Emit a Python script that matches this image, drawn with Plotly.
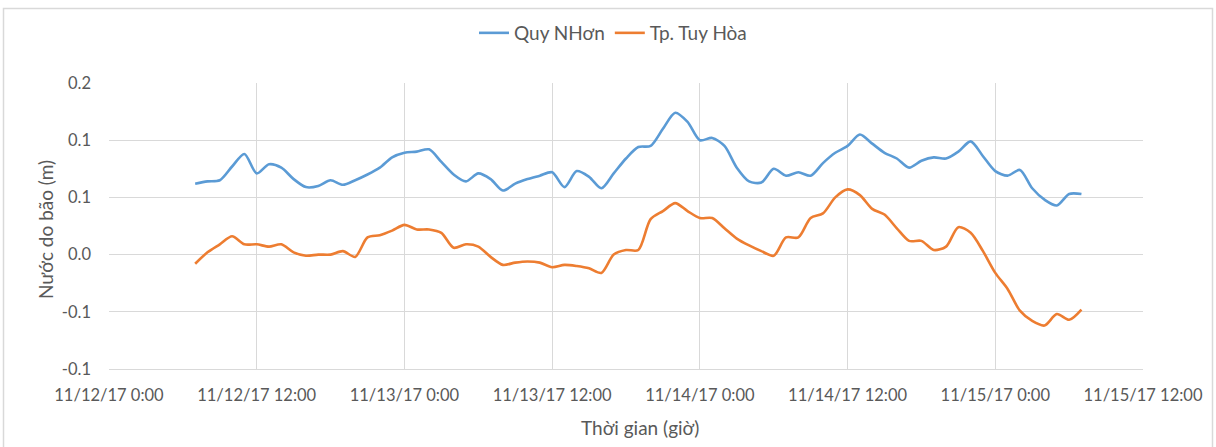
import pandas as pd
import plotly.graph_objects as go

# Hourly readings, 11/12/17 07:00 -> 11/15/17 07:00
start_time = "2017-11-12 07:00"
n_hours = 73

quy_nhon = [
    0.062, 0.064, 0.065, 0.077, 0.088, 0.071, 0.079, 0.076, 0.066, 0.059, 0.060, 0.065,
    0.061, 0.065, 0.070, 0.076, 0.085, 0.089, 0.090, 0.092, 0.081, 0.070, 0.064, 0.071,
    0.066, 0.056, 0.062, 0.066, 0.069, 0.072, 0.059, 0.073, 0.068, 0.058, 0.071, 0.084,
    0.094, 0.095, 0.110, 0.124, 0.116, 0.100, 0.102, 0.095, 0.076, 0.064, 0.063, 0.075,
    0.069, 0.072, 0.069, 0.080, 0.089, 0.095, 0.105, 0.097, 0.089, 0.084, 0.076, 0.082,
    0.085, 0.084, 0.090, 0.099, 0.086, 0.073, 0.069, 0.074, 0.058, 0.048, 0.043, 0.053,
    0.053,
]

tuy_hoa = [
    -0.008, 0.002, 0.009, 0.016, 0.009, 0.009, 0.007, 0.009, 0.002, -0.001, 0.000, 0.000,
    0.003, -0.002, 0.015, 0.017, 0.021, 0.026, 0.022, 0.022, 0.019, 0.006, 0.009, 0.007,
    -0.002, -0.009, -0.007, -0.006, -0.007, -0.011, -0.009, -0.010, -0.012, -0.016, 0.000, 0.004,
    0.004, 0.031, 0.038, 0.045, 0.038, 0.032, 0.032, 0.023, 0.014, 0.008, 0.003, -0.001,
    0.015, 0.015, 0.032, 0.036, 0.050, 0.057, 0.052, 0.040, 0.035, 0.023, 0.012, 0.012,
    0.004, 0.007, 0.024, 0.019, 0.003, -0.016, -0.030, -0.049, -0.058, -0.062, -0.052, -0.057,
    -0.048,
]

times = pd.date_range(start_time, periods=n_hours, freq="h")

x_tick_vals = pd.date_range("2017-11-12 00:00", "2017-11-15 12:00", freq="12h")
x_tick_text = ["11/12/17 0:00", "11/12/17 12:00", "11/13/17 0:00", "11/13/17 12:00",
               "11/14/17 0:00", "11/14/17 12:00", "11/15/17 0:00", "11/15/17 12:00"]
y_tick_vals = [-0.1, -0.05, 0.0, 0.05, 0.1, 0.15]
y_tick_text = ["-0.1", "-0.1", "0.0", "0.1", "0.1", "0.2"]

series_names = ["Quy NHơn", "Tp. Tuy Hòa"]
colors = ["#5B9BD5", "#ED7D31"]

FONT = "Lato"
TXT = "#595959"
GRID = "#D9D9D9"

fig = go.Figure()
for name, vals, col in zip(series_names, [quy_nhon, tuy_hoa], colors):
    fig.add_trace(go.Scatter(
        x=times, y=vals, name=name, mode="lines",
        line=dict(color=col, width=2.6, shape="spline", smoothing=0.8),
    ))

W, H = 1216, 447
L, R, T, B = 109, 73, 83, 78
pw, ph = W - L - R, H - T - B

def px_x(p):
    return (p - L) / pw

def px_y(p):
    return (H - B - p) / ph

fig.update_layout(
    width=W, height=H,
    margin=dict(l=L, r=R, t=T, b=B),
    paper_bgcolor="white", plot_bgcolor="white",
    font=dict(family=FONT, color=TXT, size=16),
    showlegend=True,
    legend=dict(orientation="h", x=px_x(613), y=px_y(33), xanchor="center", yanchor="middle",
                font=dict(size=19, color=TXT, family=FONT), itemwidth=30,
                bgcolor="rgba(0,0,0,0)"),
    xaxis=dict(
        type="date",
        range=[x_tick_vals[0], x_tick_vals[-1]],
        tickvals=x_tick_vals, ticktext=x_tick_text,
        showgrid=True, gridcolor=GRID, gridwidth=1,
        showline=True, linecolor=GRID, linewidth=1,
        zeroline=False, ticks="", ticklabelstandoff=11,
        tickfont=dict(size=16.5, color=TXT, family=FONT),
    ),
    yaxis=dict(
        range=[-0.1, 0.15],
        tickvals=y_tick_vals, ticktext=y_tick_text,
        showgrid=True, gridcolor=GRID, gridwidth=1,
        showline=False, zeroline=False, ticks="", ticklabelstandoff=17,
        tickfont=dict(size=16.5, color=TXT, family=FONT),
    ),
    annotations=[
        dict(text="Thời gian (giờ)", xref="paper", yref="paper", x=px_x(640), y=px_y(427),
             xanchor="center", yanchor="middle", showarrow=False,
             font=dict(size=19, color=TXT, family=FONT)),
        dict(text="Nước do bão (m)", xref="paper", yref="paper", x=px_x(45), y=px_y(230),
             xanchor="center", yanchor="middle", showarrow=False, textangle=-90,
             font=dict(size=19, color=TXT, family=FONT)),
    ],
    shapes=[
        dict(type="rect", xref="paper", yref="paper",
             x0=px_x(3.5), x1=px_x(1212.5), y0=px_y(470), y1=px_y(8.5),
             line=dict(color=GRID, width=1.5), fillcolor="rgba(0,0,0,0)", layer="below"),
    ],
)

fig.write_html("out.html", config={"displayModeBar": False},
               post_script="document.body.style.margin='0';")
